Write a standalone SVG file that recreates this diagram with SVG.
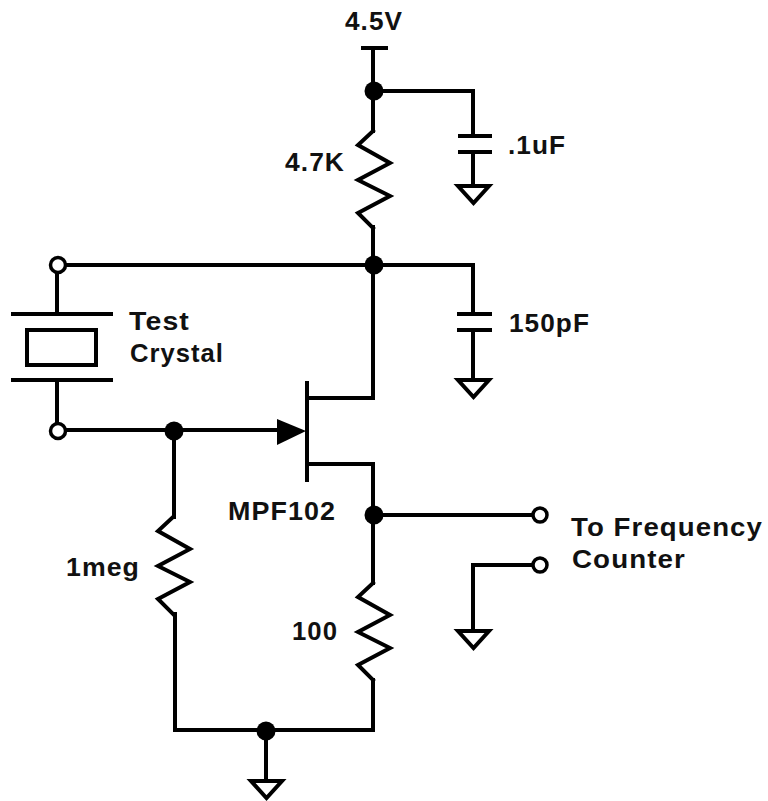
<svg xmlns="http://www.w3.org/2000/svg" width="768" height="801" viewBox="0 0 768 801">
<defs>
<style>
.w{fill:none;stroke:#000;stroke-width:4;stroke-linejoin:miter;stroke-linecap:square}
.o{fill:#fff;stroke:#000;stroke-width:3.5}
.d{fill:#000}
.g{fill:#fff;stroke:#000;stroke-width:4;stroke-linejoin:miter}
text{font-family:"Liberation Sans",Arial,sans-serif;font-weight:bold;font-size:25px;fill:#111;letter-spacing:1px}
</style>
<g id="gnd"><path class="g" d="M-15 0H16L0.500 17Z"/></g>
<path id="res" class="w" d="M0 0L-15 14L17 32L-15 49L17 65L-15 82L0 97"/>
</defs>
<rect width="768" height="801" fill="#fff"/>
<g id="connectors">
<path class="w" d="M373 48V131M373 227V398H307M363 48H386"/>
<path class="w" d="M373 91H473V136M473 152V185"/>
<path class="w" d="M58 265H473V314M473 330V379"/>
<path class="w" d="M57 265V314M57 380V430"/>
<path class="w" d="M58 430H290"/>
<path class="w" d="M174 430V517M175 614V730H373V680"/>
<path class="w" d="M307 464H373V583M373 515H532"/>
<path class="w" d="M266 731V779"/>
<path class="w" d="M473 630V565H532"/>
</g>
<g id="v45"><text x="345" y="30" textLength="58" lengthAdjust="spacingAndGlyphs">4.5V</text></g>
<g id="r47k"><use href="#res" x="373" y="131"/><text x="285" y="171" textLength="60" lengthAdjust="spacingAndGlyphs">4.7K</text></g>
<g id="c01"><path class="w" d="M460 136H490M460 152H490"/><text x="508" y="154" textLength="58" lengthAdjust="spacingAndGlyphs">.1uF</text></g>
<g id="c150"><path class="w" d="M459 314H490M459 330H490"/><text x="509" y="332" textLength="81" lengthAdjust="spacingAndGlyphs">150pF</text></g>
<g id="crystal"><path class="w" d="M13 314H111M13 380H111"/><rect x="27" y="330" width="69" height="35" fill="#fff" stroke="#000" stroke-width="4"/><text x="129" y="330" textLength="61" lengthAdjust="spacingAndGlyphs">Test</text><text x="130" y="362" textLength="94" lengthAdjust="spacingAndGlyphs">Crystal</text></g>
<g id="jfet"><path class="w" d="M307 383V480"/><path class="d" d="M277 419L306 431L277 445Z"/><text x="228" y="520" textLength="108" lengthAdjust="spacingAndGlyphs">MPF102</text></g>
<g id="r1meg"><use href="#res" x="173" y="517"/><text x="66" y="576" textLength="74" lengthAdjust="spacingAndGlyphs">1meg</text></g>
<g id="r100"><use href="#res" x="373" y="583"/><text x="292" y="640" textLength="46" lengthAdjust="spacingAndGlyphs">100</text></g>
<g id="output"><text x="571" y="536" textLength="192" lengthAdjust="spacingAndGlyphs">To Frequency</text><text x="572" y="568" textLength="114" lengthAdjust="spacingAndGlyphs">Counter</text></g>
<g id="gnds"><use href="#gnd" x="473" y="186"/><use href="#gnd" x="473" y="380"/><use href="#gnd" x="473" y="631"/><use href="#gnd" x="266" y="781"/></g>
<g id="terminals"><circle class="o" cx="58" cy="265" r="7.500"/><circle class="o" cx="58" cy="431" r="7.500"/><circle class="o" cx="540" cy="515" r="7"/><circle class="o" cx="540" cy="565" r="7"/></g>
<g id="junctions"><circle class="d" cx="374" cy="91" r="9.500"/><circle class="d" cx="374" cy="265" r="9.500"/><circle class="d" cx="174" cy="431" r="9.500"/><circle class="d" cx="374" cy="515" r="9.500"/><circle class="d" cx="266" cy="731" r="9.500"/></g>
</svg>
